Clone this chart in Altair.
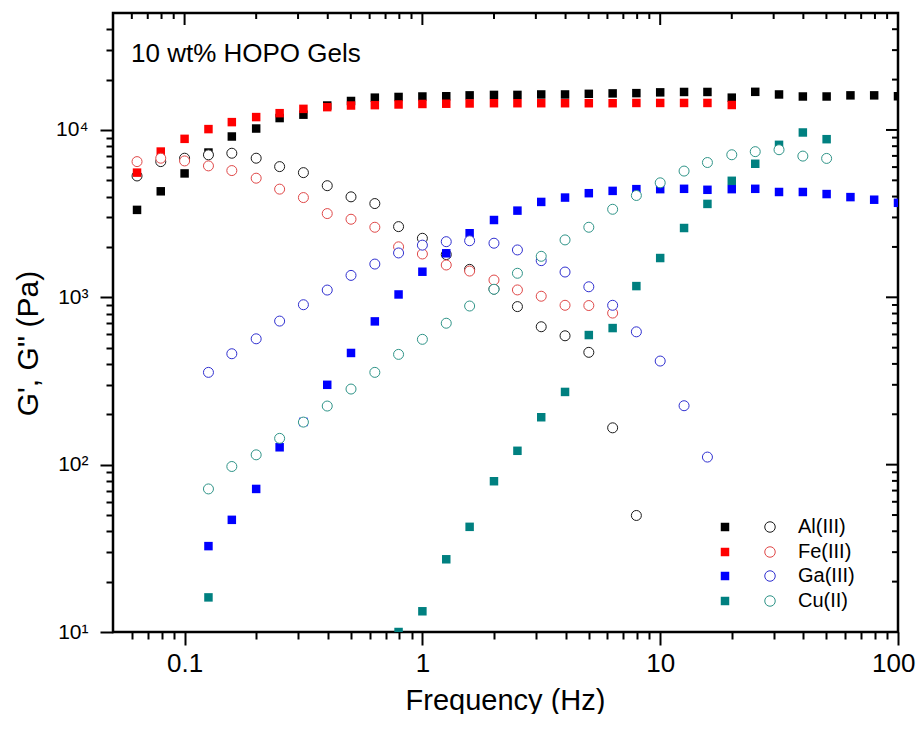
import altair as alt
import pandas as pd

# ---------------- data ----------------
freq = [0.0631, 0.0794, 0.1, 0.126, 0.158, 0.2, 0.251, 0.316, 0.398, 0.501, 0.631, 0.794,
        1.0, 1.26, 1.58, 2.0, 2.51, 3.16, 3.98, 5.01, 6.31, 7.94, 10.0, 12.6, 15.8, 20.0,
        25.1, 31.6, 39.8, 50.1, 63.1, 79.4, 100.0]
N = None

# G' (storage modulus, filled squares)
al_gp = [3330, 4300, 5500, 7330, 9140, 10200, 11780, 12340, 14000, 14900, 15600, 15750,
         15850, 15900, 16100, 16200, 16200, 16300, 16300, 16440, 16540, 16600, 16780, 16870,
         16870, 15600, 16900, 16300, 15850, 15850, 16100, 16100, 15900]
fe_gp = [5560, 7430, 8850, 10120, 11140, 11940, 12600, 13370, 13690, 14000, 14070, 14200,
         14300, 14350, 14400, 14450, 14450, 14450, 14450, 14450, 14450, 14500, 14500, 14500,
         14500, 14100, N, N, N, N, N, N, N]
ga_gp = [N, N, N, 32.6, 46.8, 71.6, 127, 180, 300, 465, 718, 1040, 1422, 1832, 2415, 2897,
         3296, 3715, 3945, 4190, 4325, 4430, 4430, 4450, 4390, 4430, 4450, 4260, 4260, 4140,
         3970, 3830, 3670]
cu_gp = [N, N, N, 16.1, N, N, N, N, N, N, N, 10, 13.3, 27.2, 42.5, 79.6, 121, 192, 272,
         595, 655, 1167, 1717, 2595, 3615, 4968, 6280, 8150, 9660, 8810, N, N, N]

# G'' (loss modulus, open circles)
al_gpp = [5310, 6470, 6780, 7100, 7260, 6780, 6040, 5560, 4645, 3985, 3633, 2645, 2253,
          1800, 1469, 1120, 880, 667, 589, 469, 166, 49.7, N, N, N, N, N, N, N, N, N, N, N]
fe_gpp = [6470, 6780, 6530, 6100, 5720, 5150, 4430, 3945, 3165, 2928, 2622, 2003, 1815,
          1560, 1435, 1268, 1107, 1015, 896, 893, 805, N, N, N, N, N, N, N, N, N, N, N, N]
ga_gpp = [N, N, N, 356, 460, 565, 721, 903, 1105, 1352, 1580, 1841, 2050, 2150, 2178, 2105,
          1919, 1656, 1416, 1156, 896, 622, 416, 225, 111, N, N, N, N, N, N, N, N]
cu_gpp = [N, N, N, 71.6, 97.5, 114.5, 143.6, 179.6, 224, 283, 356, 456, 561, 700, 887, 1117,
          1392, 1758, 2203, 2622, 3358, 4060, 4833, 5680, 6390, 7110, 7420, 7620, 6980, 6760,
          N, N, N]

metals = ["Al(III)", "Fe(III)", "Ga(III)", "Cu(II)"]
gp_series = [al_gp, fe_gp, ga_gp, cu_gp]
gpp_series = [al_gpp, fe_gpp, ga_gpp, cu_gpp]
square_colors = ["#000000", "#ff0000", "#0000ff", "#008080"]
circle_colors = ["#1a1a1a", "#e04848", "#3030d0", "#2f9488"]

x_major = [0.1, 1, 10, 100]
x_major_labels = ["0.1", "1", "10", "100"]
x_minor = [0.06, 0.07, 0.08, 0.09, 0.2, 0.3, 0.4, 0.5, 0.6, 0.7, 0.8, 0.9,
           2, 3, 4, 5, 6, 7, 8, 9, 20, 30, 40, 50, 60, 70, 80, 90]
y_major = [10, 100, 1000, 10000]
y_major_labels = ["10\u00b9", "10\u00b2", "10\u00b3", "10\u2074"]
y_minor = [20, 30, 40, 50, 60, 70, 80, 90, 200, 300, 400, 500, 600, 700, 800, 900,
           2000, 3000, 4000, 5000, 6000, 7000, 8000, 9000, 20000, 30000, 40000]

title_text = "10 wt% HOPO Gels"
x_title = "Frequency (Hz)"
y_title = "G', G'' (Pa)"

# ---------------- layout ----------------
W, H = 785, 619
FONT = "Liberation Sans"
xscale = alt.Scale(type="log", domain=[0.05, 100], nice=False)
yscale = alt.Scale(type="log", domain=[10, 50000], nice=False)


def label_expr(vals, labels):
    expr = "''"
    for v, l in reversed(list(zip(vals, labels))):
        expr = f"datum.value == {v} ? '{l}' : ({expr})"
    return expr


def major_test(vals):
    return "indexof([" + ",".join(str(v) for v in vals) + "], datum.value) >= 0"


x_axis = alt.Axis(
    values=x_major + x_minor, labelExpr=label_expr(x_major, x_major_labels),
    tickSize={"condition": {"test": major_test(x_major), "value": 13}, "value": 7},
    tickWidth=2, tickColor="black", domain=False, grid=False,
    labelFont=FONT, labelFontSize=26, labelColor="black", labelPadding=5,
    labelOverlap=False, labelFlush=True, labelFlushOffset=17,
    title=x_title, titleFont=FONT, titleFontSize=29, titleFontWeight="normal",
    titleColor="black", titleX=392, titleY=68, titleBaseline="middle", titleAlign="center",
)
y_axis = alt.Axis(
    values=y_major + y_minor, labelExpr=label_expr(y_major, y_major_labels),
    tickSize={"condition": {"test": major_test(y_major), "value": 13}, "value": 7},
    tickWidth=2, tickColor="black", domain=False, grid=False,
    labelFont=FONT, labelFontSize=21, labelColor="black", labelPadding=12,
    labelOverlap=False, labelFlush=False,
    title=y_title, titleFont=FONT, titleFontSize=30, titleFontWeight="normal",
    titleColor="black", titleAngle=-90, titleX=-85, titleY=330,
    titleBaseline="middle", titleAlign="center",
)

X = lambda fld: alt.X(fld, scale=xscale, axis=x_axis)
Y = lambda fld: alt.Y(fld, scale=yscale, axis=y_axis)

layers = []

for i, m in enumerate(metals):
    df_sq = pd.DataFrame({"f": freq, "v": gp_series[i]}).dropna()
    df_ci = pd.DataFrame({"f": freq, "v": gpp_series[i]}).dropna()
    sq = alt.Chart(df_sq).mark_point(
        shape="square", filled=True, size=72, color=square_colors[i], opacity=1,
        strokeWidth=0, clip=True,
    ).encode(x=X("f:Q"), y=Y("v:Q"))
    ci = alt.Chart(df_ci).mark_point(
        shape="circle", filled=True, fill="white", stroke=circle_colors[i],
        strokeWidth=1, size=100, opacity=1, clip=True,
    ).encode(x=X("f:Q"), y=Y("v:Q"))
    layers += [sq, ci]

# mirrored inward ticks on top and right
for vals, ln in [(x_major, 12), (x_minor, 6)]:
    layers.append(
        alt.Chart(pd.DataFrame({"f": vals})).mark_rule(color="black", strokeWidth=2).encode(
            x=X("f:Q"), y=alt.value(0), y2=alt.value(ln)
        )
    )
for vals, ln in [(y_major, 12), (y_minor, 6)]:
    layers.append(
        alt.Chart(pd.DataFrame({"v": vals})).mark_rule(color="black", strokeWidth=2).encode(
            y=Y("v:Q"), x=alt.value(W), x2=alt.value(W - ln)
        )
    )

# in-plot title
layers.append(
    alt.Chart(pd.DataFrame({"t": [title_text]})).mark_text(
        font=FONT, fontSize=26, align="left", baseline="alphabetic", color="black"
    ).encode(x=alt.value(18), y=alt.value(49), text="t:N")
)

# legend (manual: filled square = G', open circle = G'')
leg_y = [514, 539, 563, 588]
for i, m in enumerate(metals):
    layers.append(
        alt.Chart(pd.DataFrame({"m": [m]})).mark_point(
            shape="square", filled=True, size=72, color=square_colors[i], opacity=1, strokeWidth=0
        ).encode(x=alt.value(612), y=alt.value(leg_y[i]))
    )
    layers.append(
        alt.Chart(pd.DataFrame({"m": [m]})).mark_point(
            shape="circle", filled=True, fill="white", stroke=circle_colors[i],
            strokeWidth=1, size=110, opacity=1
        ).encode(x=alt.value(657), y=alt.value(leg_y[i]))
    )
    layers.append(
        alt.Chart(pd.DataFrame({"m": [m]})).mark_text(
            font=FONT, fontSize=20, align="left", baseline="middle", color="black"
        ).encode(x=alt.value(685), y=alt.value(leg_y[i]), text="m:N")
    )

chart = alt.layer(*layers).properties(
    width=W, height=H,
    autosize=alt.AutoSizeParams(type="none"),
    padding={"left": 105, "top": 5, "right": 18, "bottom": 82},
    background="white",
).configure_view(stroke="black", strokeWidth=2.5)

chart.save("out.html", embed_options={"renderer": "svg", "actions": False})
